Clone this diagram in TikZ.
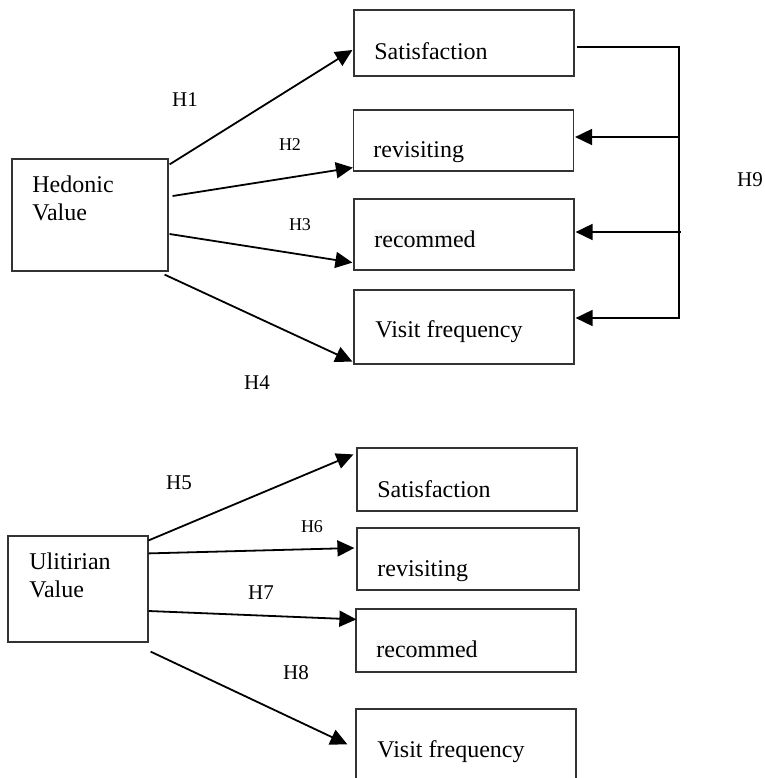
\documentclass[tikz,border=0pt]{standalone}
\usepackage{fontspec}
\setmainfont{Liberation Serif}
\usepackage{tikz}
\usetikzlibrary{arrows.meta,calc}

\begin{document}
\begin{tikzpicture}[x=0.5pt, y=-0.5pt,
  box/.style={draw=black!80, line width=0.6pt, inner sep=0pt, minimum width=110pt},
  txt/.style={inner sep=0pt, anchor=base west, align=left, font=\fontsize{12}{14}\selectfont},
  hl/.style={fill=black!3},
  lbl/.style={inner sep=0pt, font=\fontsize{10.5}{12}\selectfont},
  slbl/.style={inner sep=0pt, font=\fontsize{9}{10}\selectfont},
  arr/.style={line width=0.9pt, -{Triangle[length=8.5pt, width=8pt]}}]
  \useasboundingbox (0,0) rectangle (765,778);
  \clip (0,0) rectangle (765,778);
  % hedonic part
  \node (hed) [box, minimum width=78pt, minimum height=56pt] at (90,215) {};
  \node (sat1) [box, minimum height=33pt] at (464,43) {};
  \node (rev1) [box, minimum height=30.5pt] at (463.5,140.5) {};
  \node (rec1) [box, minimum height=35.5pt] at (464,234.5) {};
  \node (vis1) [box, minimum height=37pt] at (464,327) {};
  \node (hedt) [txt] at (32,220) {Hedonic\\Value};
  \node (sat1t) [txt] at (374,59) {Satisfaction};
  \node (rev1t) [txt] at (373,157) {revisiting};
  \node (rec1t) [txt, hl] at (374,247) {recommed};
  \node (vis1t) [txt] at (375,337) {Visit frequency};
  \node (h1) [lbl] at (185,100) {H1};
  \node (h2) [slbl] at (290,145) {H2};
  \node (h3) [slbl] at (300,225) {H3};
  \node (h4) [lbl] at (257,383) {H4};
  \node (h9) [lbl] at (750,180) {H9};
  \draw[arr] ($(hed.north east)+(1,6)$) -- ($(sat1.west)+(-1,7)$);
  \draw[arr] ($(hed.east)+(4,-19)$) -- ($(rev1.south west)+(0,-4)$);
  \draw[arr] ($(hed.east)+(1,19)$) -- ($(rec1.south west)+(-1,-8)$);
  \draw[arr] ($(hed.south east)+(-4,3)$) -- ($(vis1.south west)+(-1,-3)$);
  \coordinate (h9top) at (679,47);
  \coordinate (h9bot) at (679,318);
  \draw[arr] ($(sat1.east)+(2,4)$) -- (h9top) -- (h9bot) -- ($(vis1.east)+(1,-9)$);
  \draw[arr] ($(rev1.east)+(104,-3.5)$) -- ($(rev1.east)+(1,-3.5)$);
  \draw[arr] ($(rec1.east)+(106,-2.5)$) -- ($(rec1.east)+(1,-2.5)$);
  % utilitarian part
  \node (uti) [box, minimum width=70pt, minimum height=53pt] at (78,589) {};
  \node (sat2) [box, minimum height=31.5pt] at (467,479.5) {};
  \node (rev2) [box, minimum width=111pt, minimum height=31pt] at (468,559) {};
  \node (rec2) [box, minimum height=31.5pt] at (466,640.5) {};
  \node (vis2) [box, minimum height=46pt] at (466,755) {};
  \node (utit) [txt] at (29,597) {Ulitirian\\Value};
  \node (sat2t) [txt] at (377,497) {Satisfaction};
  \node (rev2t) [txt] at (377,576) {revisiting};
  \node (rec2t) [txt, hl] at (376,657) {recommed};
  \node (vis2t) [txt] at (377,757) {Visit frequency};
  \node (h5) [lbl] at (179,483) {H5};
  \node (h6) [slbl] at (312,527) {H6};
  \node (h7) [lbl] at (261,593) {H7};
  \node (h8) [lbl] at (296,673) {H8};
  \draw[arr] ($(uti.north east)+(0,5)$) -- ($(sat2.north west)+(-3,7)$);
  \draw[arr] ($(uti.north east)+(0,18)$) -- ($(rev2.west)+(-2,-11)$);
  \draw[arr] ($(uti.east)+(0,22)$) -- ($(rec2.north west)+(1,11)$);
  \draw[arr] ($(uti.south east)+(2,9)$) -- ($(vis2.north west)+(-8,36)$);
\end{tikzpicture}
\end{document}
